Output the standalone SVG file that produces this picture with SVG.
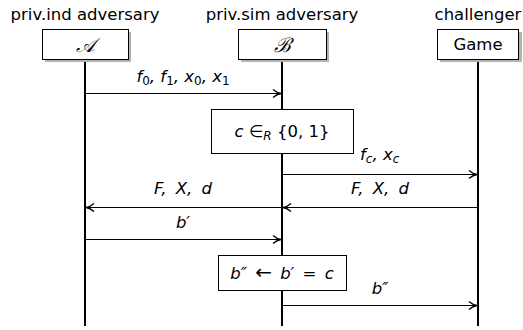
<svg xmlns="http://www.w3.org/2000/svg" width="523" height="330" viewBox="0 0 523 330">
<style>
.hdr{font-family:"DejaVu Sans","Liberation Sans",sans-serif;font-size:16.5px;fill:#000;text-anchor:middle}
.box{fill:#fff;stroke:#000;stroke-width:1}
.shadow{fill:#b3b3b3}
.life{stroke:#000;stroke-width:2}
.msg{stroke:#000;stroke-width:1;fill:none}
.m{font-family:"DejaVu Sans","Liberation Sans",sans-serif;font-size:16.5px;font-style:italic;fill:#000}
.r{font-style:normal}
.cal{font-family:"Liberation Serif",serif;font-style:italic;font-size:20px;text-anchor:middle}
</style>
<defs>
<marker id="ah" viewBox="0 0 10 10" refX="9" refY="5" markerWidth="10" markerHeight="10" markerUnits="userSpaceOnUse" orient="auto">
<path d="M1,1 Q5,4.5 9,5 Q5,5.5 1,9" fill="none" stroke="#000" stroke-width="1.3"/>
</marker>
</defs>
<rect width="523" height="330" fill="#fff"/>
<g id="lifelines">
<line class="life" x1="85" y1="59" x2="85" y2="326"/>
<line class="life" x1="282" y1="59" x2="282" y2="326"/>
<line class="life" x1="478" y1="59" x2="478" y2="326"/>
</g>
<g id="nodeA">
<text class="hdr" x="85" y="20">priv.ind adversary</text>
<rect class="shadow" x="45" y="32" width="86" height="30"/>
<rect class="box" x="42.5" y="29.5" width="86" height="30"/>
<text class="cal" x="85" y="52">𝒜</text>
</g>
<g id="nodeB">
<text class="hdr" x="282" y="20">priv.sim adversary</text>
<rect class="shadow" x="241" y="32" width="88" height="30"/>
<rect class="box" x="238.5" y="29.5" width="88" height="30"/>
<text class="cal" x="282" y="52">ℬ</text>
</g>
<g id="nodeGame">
<text class="hdr" x="478" y="20">challenger</text>
<rect class="shadow" x="440" y="32" width="82" height="30"/>
<rect class="box" x="437.5" y="29.5" width="81" height="30"/>
<text class="hdr" x="478" y="50">Game</text>
</g>
<g id="connectors">
<line class="msg" x1="85" y1="93.5" x2="281" y2="93.5" marker-end="url(#ah)"/>
<line class="msg" x1="282" y1="174.5" x2="477" y2="174.5" marker-end="url(#ah)"/>
<line class="msg" x1="478" y1="207.5" x2="283" y2="207.5" marker-end="url(#ah)"/>
<line class="msg" x1="282" y1="207.5" x2="86" y2="207.5" marker-end="url(#ah)"/>
<line class="msg" x1="85" y1="239.5" x2="281" y2="239.5" marker-end="url(#ah)"/>
<line class="msg" x1="282" y1="305.5" x2="477" y2="305.5" marker-end="url(#ah)"/>
</g>
<g id="labels">
<text class="m" x="183" y="82" text-anchor="middle">f<tspan class="r" font-size="12" dy="3">0</tspan><tspan dy="-3">, f</tspan><tspan class="r" font-size="12" dy="3">1</tspan><tspan dy="-3">, x</tspan><tspan class="r" font-size="12" dy="3">0</tspan><tspan dy="-3">, x</tspan><tspan class="r" font-size="12" dy="3">1</tspan></text>
<text class="m" x="360" y="160">f<tspan font-size="12" dy="3">c</tspan><tspan dy="-3">, x</tspan><tspan font-size="12" dy="3">c</tspan></text>
<text class="m" x="183" y="194" text-anchor="middle" word-spacing="4">F, X, d</text>
<text class="m" x="380" y="194" text-anchor="middle" word-spacing="4">F, X, d</text>
<text class="m" x="183" y="228" text-anchor="middle">b′</text>
<text class="m" x="380" y="294" text-anchor="middle">b″</text>
</g>
<g id="nodeC">
<rect class="box" x="211.5" y="109.5" width="142" height="44"/>
<text class="m" x="282" y="137" text-anchor="middle">c <tspan class="r">∈</tspan><tspan font-size="12" dy="3">R</tspan><tspan class="r" dy="-3"> {0, 1}</tspan></text>
</g>
<g id="nodeD">
<rect class="box" x="218.5" y="255.5" width="128" height="35"/>
<text class="m" x="282" y="279" text-anchor="middle" word-spacing="3">b″ <tspan class="r" font-size="20">←</tspan> b′ <tspan class="r">=</tspan> c</text>
</g>
</svg>
